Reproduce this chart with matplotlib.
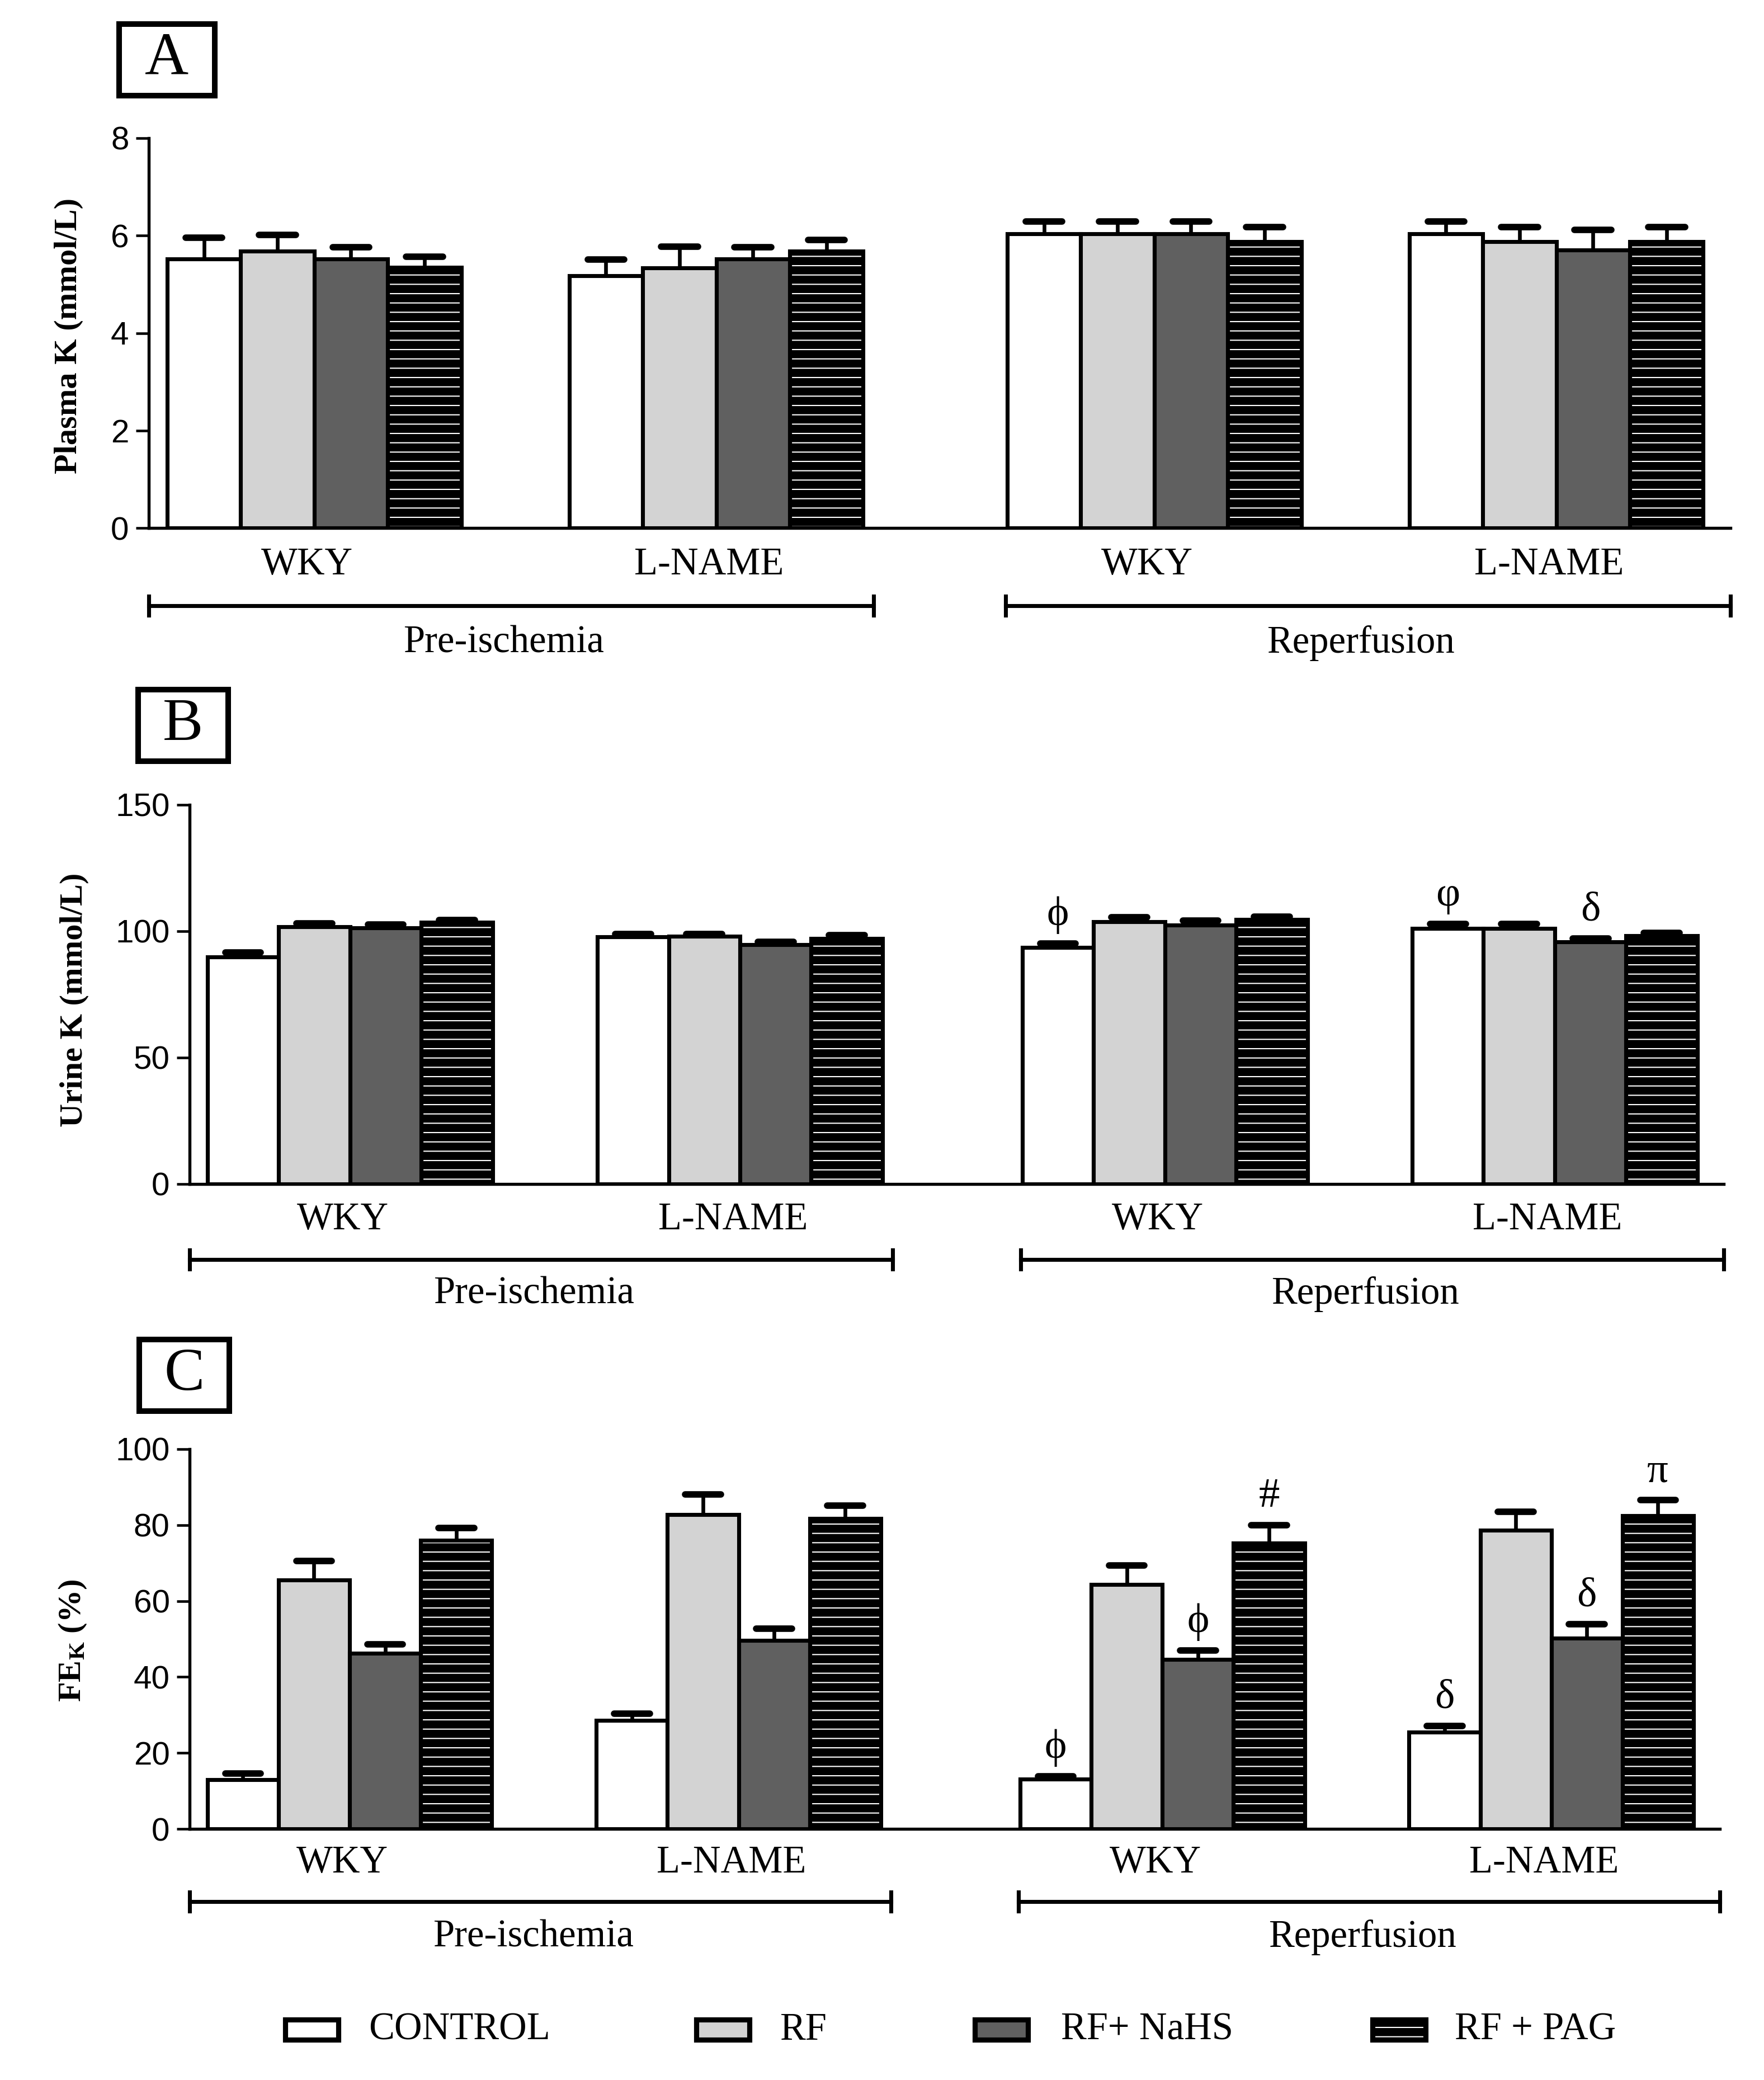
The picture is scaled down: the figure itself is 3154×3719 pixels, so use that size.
import numpy as np
import matplotlib
matplotlib.use("Agg")
import matplotlib.pyplot as plt
from matplotlib.patches import Rectangle
from matplotlib.transforms import blended_transform_factory

# ---- data ----
groups = ["WKY", "L-NAME", "WKY", "L-NAME"]
phases = ["Pre-ischemia", "Reperfusion"]
series = ["CONTROL", "RF", "RF+ NaHS", "RF + PAG"]

plasma_ctrl = [5.52, 5.18, 6.04, 6.04]
plasma_rf = [5.68, 5.34, 6.04, 5.88]
plasma_nahs = [5.52, 5.52, 6.04, 5.70]
plasma_pag = [5.35, 5.68, 5.88, 5.88]
plasma_ctrl_sem = [0.44, 0.33, 0.25, 0.25]
plasma_rf_sem = [0.34, 0.43, 0.25, 0.30]
plasma_nahs_sem = [0.24, 0.24, 0.25, 0.42]
plasma_pag_sem = [0.22, 0.23, 0.30, 0.30]

urine_ctrl = [89.8, 97.8, 93.5, 101.1]
urine_rf = [101.8, 97.9, 103.7, 101.1]
urine_nahs = [101.3, 94.7, 102.4, 95.7]
urine_pag = [103.5, 97.1, 104.7, 98.2]
urine_ctrl_sem = [1.7, 1.0, 1.7, 1.8]
urine_rf_sem = [1.3, 1.0, 1.9, 1.7]
urine_nahs_sem = [1.3, 1.2, 1.9, 1.4]
urine_pag_sem = [1.0, 1.3, 1.1, 1.2]

fek_ctrl = [13.0, 28.6, 13.1, 25.5]
fek_rf = [65.6, 82.7, 64.4, 78.7]
fek_nahs = [46.2, 49.6, 44.6, 50.2]
fek_pag = [76.0, 81.7, 75.2, 82.5]
fek_ctrl_sem = [1.6, 1.8, 0.8, 1.6]
fek_rf_sem = [4.9, 5.3, 4.9, 4.8]
fek_nahs_sem = [2.4, 3.1, 2.4, 3.7]
fek_pag_sem = [3.2, 3.4, 4.8, 4.1]

# (group index, series index, symbol)
urine_marks = [(2, 0, "\u03d5"), (3, 0, "\u03c6"), (3, 2, "\u03b4")]
fek_marks = [(2, 0, "\u03d5"), (2, 2, "\u03d5"), (2, 3, "#"),
             (3, 0, "\u03b4"), (3, 2, "\u03b4"), (3, 3, "\u03c0")]

# ---- style ----
W, H, DPI = 3154, 3719, 300
SERIF = ["Liberation Serif", "DejaVu Serif"]
plt.rcParams["font.family"] = ["Liberation Sans", "DejaVu Sans"]
plt.rcParams["hatch.linewidth"] = 0.5
plt.rcParams["mathtext.fontset"] = "custom"
plt.rcParams["mathtext.rm"] = "Liberation Serif"
plt.rcParams["mathtext.bf"] = "Liberation Serif:bold"

face = ["white", "#d3d3d3", "#606060", "black"]
group_starts = np.array([0.25, 5.72, 11.68, 17.15])
XMAX = 21.52
BAR_LW = 1.7


def rect(l, t, r, b):
    return [l / W, 1 - b / H, (r - l) / W, (b - t) / H]


def fy(py):
    return 1 - py / H


fig = plt.figure(figsize=(W / DPI, H / DPI), dpi=DPI)


def panel(box, letter, letter_box, ylabel, ylabel_xy, ymax, ystep,
          means, sems, label_y, bracket_y, phase_y, marks=()):
    ax = fig.add_axes(rect(*box))
    for i, (vals, err) in enumerate(zip(means, sems)):
        x = group_starts + 0.5 + i
        vals = np.asarray(vals)
        tops = vals + np.asarray(err)
        if i == 3:
            ax.bar(x, vals, width=1, color="black", edgecolor="white",
                   hatch="---", linewidth=0, zorder=2)
            ax.bar(x, vals, width=1, fill=False, edgecolor="black",
                   linewidth=BAR_LW, zorder=2.5)
        else:
            ax.bar(x, vals, width=1, color=face[i], edgecolor="black",
                   linewidth=BAR_LW, zorder=2.5)
        ax.vlines(x, vals, tops, color="black", linewidth=1.6, zorder=3)
        ax.hlines(tops, x - 0.25, x + 0.25, color="black", linewidth=2.8,
                  capstyle="round", zorder=3)
    for g, s, sym in marks:
        x = group_starts[g] + 0.5 + s
        top = means[s][g] + sems[s][g]
        ax.annotate(sym, (x, top), xytext=(0, 4), textcoords="offset points",
                    ha="center", va="bottom", fontsize=18, family=SERIF)

    ax.set_xlim(0, XMAX)
    ax.set_ylim(0, ymax)
    ax.set_yticks(np.arange(0, ymax + ystep / 2, ystep))
    ax.set_xticks([])
    for side in ("top", "right"):
        ax.spines[side].set_visible(False)
    for side in ("left", "bottom"):
        ax.spines[side].set_linewidth(1.3)
    ax.tick_params(axis="y", direction="out", length=5.5, width=1.1,
                   labelsize=14, pad=3)

    tr = blended_transform_factory(ax.transData, fig.transFigure)
    for g, name in enumerate(groups):
        ax.text(group_starts[g] + 1.9, fy(label_y), name, transform=tr,
                ha="center", va="center", fontsize=16.5, family=SERIF)
    spans = [(0, 9.86), (11.66, XMAX)]
    for (x0, x1), name in zip(spans, phases):
        ax.plot([x0, x1], [fy(bracket_y)] * 2, color="black", lw=1.7,
                transform=tr, clip_on=False)
        for xe in (x0, x1):
            ax.plot([xe, xe], [fy(bracket_y - 17), fy(bracket_y + 17)],
                    color="black", lw=1.7, transform=tr, clip_on=False)
        ax.text((x0 + x1) / 2 - 0.1, fy(phase_y), name, transform=tr,
                ha="center", va="center", fontsize=16.5, family=SERIF)

    fig.text(ylabel_xy[0] / W, fy(ylabel_xy[1]), ylabel, rotation=90,
             ha="center", va="center", fontsize=14, fontweight="bold",
             family=SERIF)

    l, t, r, b = letter_box
    fig.add_artist(Rectangle((l / W, fy(b)), (r - l) / W, (b - t) / H,
                             transform=fig.transFigure, fill=False,
                             edgecolor="black", linewidth=2.4))
    fig.text((l + r) / 2 / W, fy((t + b) / 2), letter, ha="center",
             va="center", fontsize=26, family=SERIF)
    return ax


panel((266, 247, 3094, 944), "A", (213, 43, 384, 171),
      "Plasma K (mmol/L)", (123, 600), 8, 2,
      [plasma_ctrl, plasma_rf, plasma_nahs, plasma_pag],
      [plasma_ctrl_sem, plasma_rf_sem, plasma_nahs_sem, plasma_pag_sem],
      1010, 1083, 1150)

panel((339, 1439, 3082, 2117), "B", (247, 1233, 408, 1361),
      "Urine K (mmol/L)", (133, 1788), 150, 50,
      [urine_ctrl, urine_rf, urine_nahs, urine_pag],
      [urine_ctrl_sem, urine_rf_sem, urine_nahs_sem, urine_pag_sem],
      2181, 2252, 2314, urine_marks)

panel((339, 2591, 3075, 3270), "C", (249, 2395, 410, 2523),
      r"$\mathbf{FE_K}$ (%)", (130, 2933), 100, 20,
      [fek_ctrl, fek_rf, fek_nahs, fek_pag],
      [fek_ctrl_sem, fek_rf_sem, fek_nahs_sem, fek_pag_sem],
      3331, 3400, 3464, fek_marks)

# ---- legend ----
patch_x = [510, 1245, 1743, 2454]
text_x = [659, 1394, 1897, 2601]
py0, py1 = 3611, 3647
for i, name in enumerate(series):
    x0 = patch_x[i]
    if i == 3:
        fig.add_artist(Rectangle((x0 / W, fy(py1)), 95 / W, (py1 - py0) / H,
                                 transform=fig.transFigure, facecolor="black",
                                 edgecolor="white", hatch="---", linewidth=0))
        fig.add_artist(Rectangle((x0 / W, fy(py1)), 95 / W, (py1 - py0) / H,
                                 transform=fig.transFigure, fill=False,
                                 edgecolor="black", linewidth=2.2))
    else:
        fig.add_artist(Rectangle((x0 / W, fy(py1)), 95 / W, (py1 - py0) / H,
                                 transform=fig.transFigure, facecolor=face[i],
                                 edgecolor="black", linewidth=2.2))
    fig.text(text_x[i] / W, fy(3630), name, ha="left", va="center",
             fontsize=16.5, family=SERIF)

fig.savefig("out.png", dpi=DPI)
